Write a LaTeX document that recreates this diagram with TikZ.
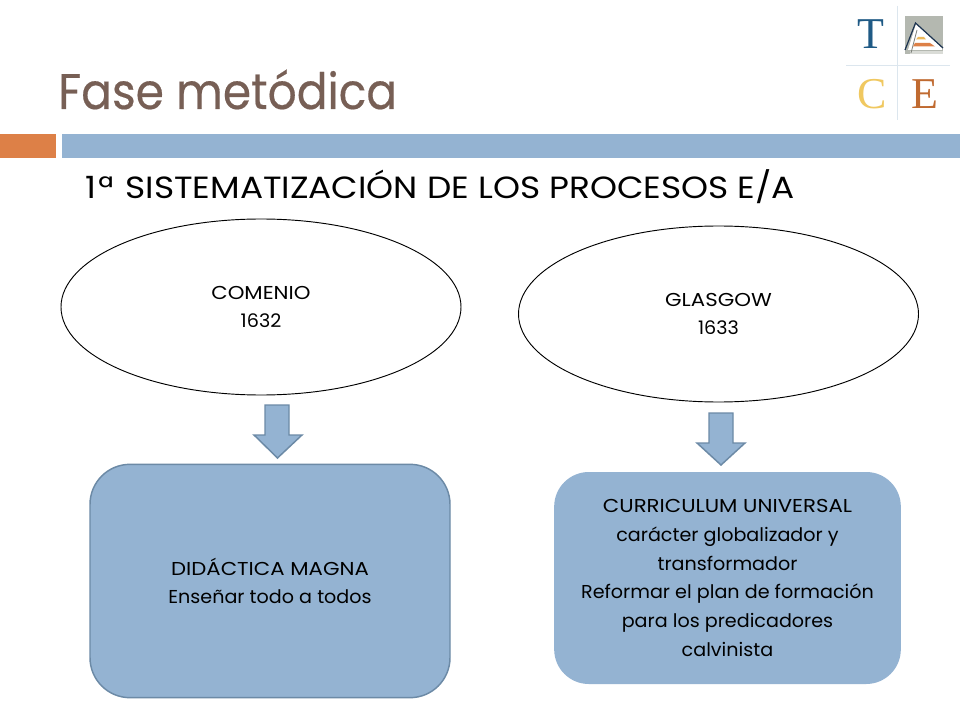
\documentclass[tikz,border=0pt]{standalone}
\usepackage{fontspec}
\setmainfont{Poppins}
\newfontfamily\logofont{Liberation Serif}
\newfontfamily\titlefont[FakeStretch=0.91,FakeBold=0.35]{Poppins}
\newfontfamily\subfont[FakeStretch=1.12]{Poppins}
\newfontfamily\capsfont[FakeStretch=1.14]{Poppins}
\newfontfamily\lowfont[FakeStretch=1.025]{Poppins}
\usetikzlibrary{shapes.geometric}
\definecolor{blu}{HTML}{94B3D2}
\definecolor{blued}{HTML}{6C8AA6}
\definecolor{org}{HTML}{DD8047}
\definecolor{titlec}{HTML}{775F55}
\definecolor{logoT}{HTML}{1F5A85}
\definecolor{logoC}{HTML}{F0C860}
\definecolor{logoE}{HTML}{C06A30}
\definecolor{logoG}{HTML}{B4B8B0}
\definecolor{logoL}{HTML}{DCE6EE}
\definecolor{logoD}{HTML}{1C3350}
\definecolor{logoY}{HTML}{EDB95A}
\tikzset{
 x=0.75pt,y=-0.75pt,
 oval/.style={draw=black,line width=0.7pt,fill=white,ellipse,minimum width=300pt,minimum height=132pt,inner sep=0pt,align=center,font=\lowfont\fontsize{14}{21.5}\selectfont},
 boxa/.style={draw=blued,line width=1.1pt,fill=blu,rounded corners=30pt,align=center,inner sep=0pt,font=\lowfont\fontsize{14}{21.5}\selectfont},
 boxb/.style={fill=blu,rounded corners=26pt,align=center,inner sep=0pt,font=\lowfont\fontsize{14}{21.7}\selectfont},
 downarrow/.style={draw=blued,line width=1.1pt,fill=blu},
 logo/.style={font=\logofont\fontsize{33}{33}\selectfont,inner sep=0pt},
}
\newcommand{\cp}[1]{{\capsfont #1}}
\begin{document}
\begin{tikzpicture}
\useasboundingbox (0,0) rectangle (960,720);
\fill[white] (0,0) rectangle (960,720);
% logo
\draw[color=logoL,line width=0.5pt] (897,6)--(897,120) (846,65)--(950,65);
\node[logo,text=logoT] (T) at (871,34) {T};
\node[logo,text=logoC] (C) at (872,94) {C};
\node[logo,text=logoE] (E) at (925,94) {E};
\fill[logoG] (905,16) rectangle (943,54);
\fill[white] (908,50) -- (916,24) -- (942,48) -- (942,50) -- cycle;
\fill[logoG!50!white] (910,51) -- (943,51) -- (943,54) -- (910,54) -- cycle;
\draw[color=logoD,line width=0.9pt] (905,50) -- (915.5,23) -- (943,48);
\draw[color=logoG!70!black,line width=0.6pt] (911,53) -- (917,30);
\fill[logoY] (918,37) -- (924,37) -- (926,39.5) -- (916,39.5) -- cycle;
\fill[org] (915,43) -- (930,43) -- (935,46.5) -- (913,46.5) -- cycle;
% title bars
\fill[org] (0,134) rectangle (56,158);
\fill[blu] (62,134) rectangle (960,158);
\node[anchor=base west,inner sep=0pt,text=titlec,font=\titlefont\fontsize{37.5}{37.5}\selectfont] (title) at (58,109) {Fase metódica};
\node[anchor=base west,inner sep=0pt,text=black,font=\subfont\fontsize{23}{23}\selectfont] (sub) at (85,199) {1\kern1.5ptª\kern2pt{} SISTEMATIZACIÓN DE LOS PROCESOS E/A};
% ovals
\node[oval] (com) at (261,307) {\cp{COMENIO}\\1632};
\node[oval] (gla) at (718.5,314) {\cp{GLASGOW}\\1633};
% boxes
\node[boxa,minimum width=270pt,minimum height=175pt] (did) at (270,581) {\cp{DIDÁCTICA MAGNA}\\Enseñar todo a todos};
\node[boxb,minimum width=260pt,minimum height=159pt] (cur) at (727.5,578) {\cp{CURRICULUM UNIVERSAL}\\carácter globalizador y\\transformador\\Reformar el plan de formación\\para los predicadores\\calvinista};
% arrows
\draw[downarrow] (265,405) -- (289,405) -- (289,435) -- (302,435) -- (277.5,458) -- (254,435) -- (265,435) -- cycle;
\draw[downarrow] (709,413) -- (733,413) -- (733,443) -- (745,443) -- (721,465) -- (697,443) -- (709,443) -- cycle;
\end{tikzpicture}
\end{document}
